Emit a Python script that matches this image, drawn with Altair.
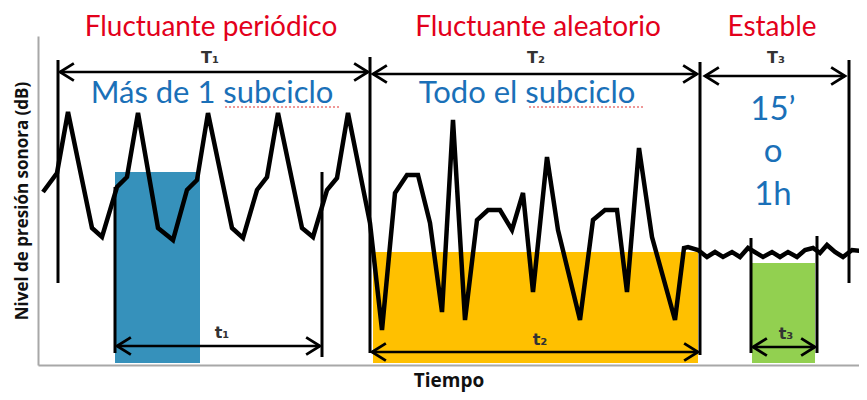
import altair as alt
import pandas as pd

# ---------------- data (time units, level units) ----------------
line_t = [5, 19, 30, 54, 64, 79, 89, 100, 120, 135, 149, 159, 170, 194, 205, 219, 229, 240,
          264, 275, 289, 299, 310, 332, 344, 357, 369, 380, 392, 404, 415, 427, 439, 450,
          462, 474, 485, 495, 509, 520, 542, 555, 567, 579, 589, 601, 614, 637, 646, 650,
          660, 669, 677, 685, 694, 702, 710, 725, 734, 742, 750, 759, 767, 775, 782, 789,
          797, 805, 814, 824]
line_level = [173, 192, 253, 137, 128, 178, 188, 252, 137, 125, 175, 185, 252, 137, 127, 175, 188, 252,
              137, 128, 175, 187, 252, 142, 35, 172, 190, 190, 142, 53, 245, 45, 145, 155,
              155, 135, 172, 73, 208, 135, 45, 145, 155, 155, 73, 217, 128, 45, 117, 118,
              115, 108, 113, 108, 113, 108, 117, 108, 113, 108, 113, 108, 115, 117, 112, 120,
              113, 108, 115, 114]

# measurement windows (filled areas)
win_t = [77, 335, 714]
win_t2 = [162, 660, 777]
win_top = [193, 113, 102]
win_bottom = [2, 2, 2]
win_color = ["#3691bb", "#ffc000", "#92d050"]

# vertical markers
vmark_t = [20, 332, 662, 811, 77, 284, 713, 779]
vmark_top = [305, 308, 303, 305, 178, 193, 127, 129]
vmark_bottom = [82, 12, 10, 82, 12, 8, 12, 12]

# double arrows
arrow_t = [22, 335, 667, 79, 334, 715]
arrow_t2 = [330, 659, 807, 282, 660, 777]
arrow_level = [293, 291, 289, 19, 13, 18]

# interval labels
ilab_text = ["T₁", "T₂", "T₃", "t₁", "t₂", "t₃"]
ilab_t = [172, 498, 738, 184, 502, 748]
ilab_level = [302, 302, 302, 27, 20, 26]

# red category titles
cat_text = ["Fluctuante periódico", "Fluctuante aleatorio", "Estable"]
cat_t = [173, 500, 734]
cat_level = [329, 329, 329]

# blue notes
note_text = ["Más de 1 subciclo", "Todo el subciclo"]
note_t = [174, 489]
note_level = [262, 262]

dur_text = ["15’", "o", "1h"]
dur_t = [735, 735, 735]
dur_level = [245, 203, 160]

# spell-check underline
ul_t = [187, 491]
ul_t2 = [302, 607]
ul_level = [258, 258]

# ---------------- chart ----------------
XS = alt.Scale(domain=[0, 821], nice=False, zero=False)
YS = alt.Scale(domain=[0, 329], nice=False, zero=False)

XA = alt.Axis(title="Tiempo", ticks=False, labels=False, grid=False,
              domainColor="#a8a8a8", domainWidth=2, titleFontSize=19,
              titleFont="Open Sans", titleFontWeight="bold", titleColor="#111",
              titlePadding=6)
YA = alt.Axis(title="Nivel de presión sonora (dB)", ticks=False, labels=False,
              grid=False, domainColor="#a8a8a8", domainWidth=2, titleFontSize=17,
              titleFont="Open Sans", titleFontWeight="bold", titleColor="#111",
              titlePadding=7)


def X(field="t"):
    return alt.X(f"{field}:Q", scale=XS, axis=XA)


def Y(field="level"):
    return alt.Y(f"{field}:Q", scale=YS, axis=YA)


win_df = pd.DataFrame({"t": win_t, "t2": win_t2, "level": win_top, "level2": win_bottom, "c": win_color})
rects = alt.Chart(win_df).mark_rect().encode(
    x=X(), x2="t2:Q", y=Y(), y2="level2:Q",
    color=alt.Color("c:N", scale=None),
)

line_df = pd.DataFrame({"t": line_t, "level": line_level, "o": list(range(len(line_t)))})
line = alt.Chart(line_df).mark_line(color="black", strokeWidth=4.5, strokeJoin="miter").encode(
    x=X(), y=Y(), order="o:Q"
)

vm_df = pd.DataFrame({"t": vmark_t, "level": vmark_top, "level2": vmark_bottom})
vrules = alt.Chart(vm_df).mark_rule(color="black", strokeWidth=3).encode(
    x=X(), y=Y(), y2="level2:Q"
)

ar_df = pd.DataFrame({"t": arrow_t, "t2": arrow_t2, "level": arrow_level})
hrules = alt.Chart(ar_df).mark_rule(color="black", strokeWidth=2.5).encode(
    x=X(), x2="t2:Q", y=Y()
)
left_heads = alt.Chart(ar_df).mark_point(
    shape="M1.6,-1L0,0L1.6,1", size=300, filled=False, color="black", strokeWidth=2.8, opacity=1
).encode(x=X("t"), y=Y())
right_heads = alt.Chart(ar_df).mark_point(
    shape="M-1.6,-1L0,0L-1.6,1", size=300, filled=False, color="black", strokeWidth=2.8, opacity=1
).encode(x=X("t2"), y=Y())

il_df = pd.DataFrame({"txt": ilab_text, "t": ilab_t, "level": ilab_level})
ilabels = alt.Chart(il_df).mark_text(
    font="DejaVu Sans", fontWeight="bold", fontSize=16, color="#333", align="center",
    baseline="alphabetic"
).encode(x=X(), y=Y(), text="txt:N")

cat_df = pd.DataFrame({"txt": cat_text, "t": cat_t, "level": cat_level})
cats = alt.Chart(cat_df).mark_text(
    font="Lato", fontSize=28, color="#e3001b", align="center", baseline="alphabetic"
).encode(x=X(), y=Y(), text="txt:N")

note_df = pd.DataFrame({"txt": note_text, "t": note_t, "level": note_level})
notes = alt.Chart(note_df).mark_text(
    font="Lato", fontSize=31, color="#1a70b8", align="center", baseline="alphabetic"
).encode(x=X(), y=Y(), text="txt:N")

dur_df = pd.DataFrame({"txt": dur_text, "t": dur_t, "level": dur_level})
durs = alt.Chart(dur_df).mark_text(
    font="Lato", fontSize=33, color="#1a70b8", align="center", baseline="alphabetic"
).encode(x=X(), y=Y(), text="txt:N")

ul_df = pd.DataFrame({"t": ul_t, "t2": ul_t2, "level": ul_level})
underl = alt.Chart(ul_df).mark_rule(color="#e03030", strokeWidth=1.2, strokeDash=[2, 2]).encode(
    x=X(), x2="t2:Q", y=Y()
)

chart = alt.layer(
    rects, vrules, line, hrules, left_heads, right_heads, ilabels, cats, notes, durs, underl
).properties(
    width=821, height=329,
    autosize=alt.AutoSizeParams(type="none"),
    padding={"left": 30, "top": 28, "right": 0, "bottom": 27},
).configure_view(stroke=None)

chart.save("out.html", embed_options={"renderer": "svg", "actions": False})
